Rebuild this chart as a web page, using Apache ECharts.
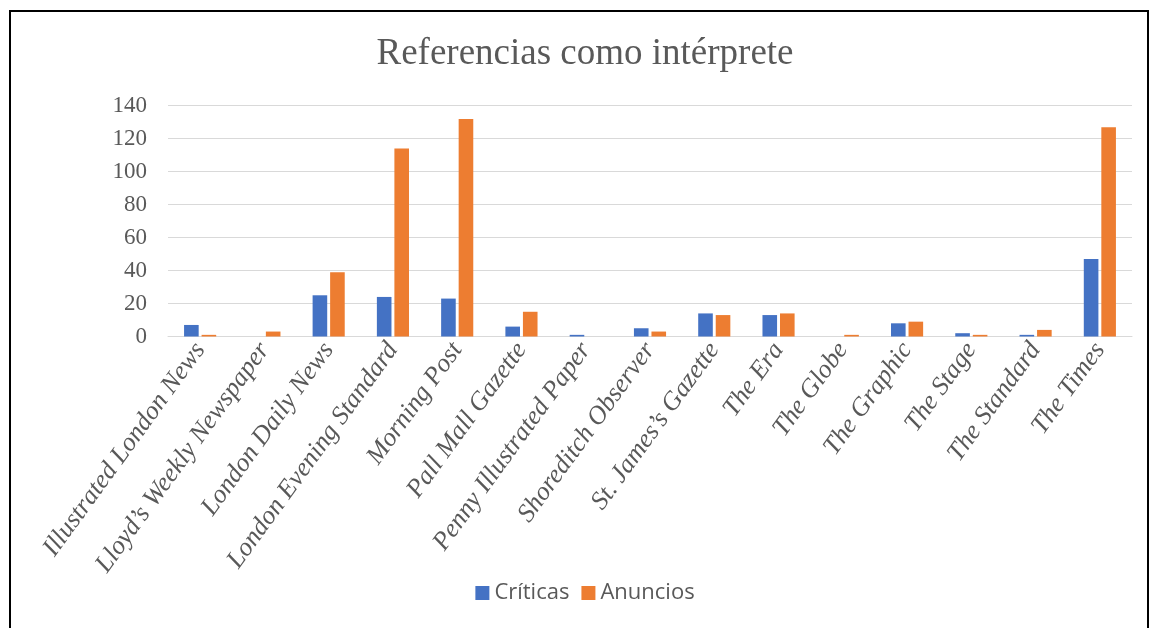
<!DOCTYPE html>
<html>
<head>
<meta charset="utf-8">
<script src="https://cdn.jsdelivr.net/npm/echarts@6/dist/echarts.min.js"></script>
<style>
html,body{margin:0;padding:0;background:#fff;overflow:hidden;}
#frame{position:absolute;left:9px;top:10px;width:1140px;height:640px;border:2px solid #000;box-sizing:border-box;}
#chart{position:absolute;left:0;top:0;width:1170px;height:628px;}
</style>
</head>
<body>
<div id="frame"></div>
<div id="chart"></div>
<script>
const categories = ["Illustrated London News","Lloyd\u2019s Weekly Newspaper","London Daily News","London Evening Standard","Morning Post","Pall Mall Gazette","Penny Illustrated Paper","Shoreditch Observer","St. James\u2019s Gazette","The Era","The Globe","The Graphic","The Stage","The Standard","The Times"];
const criticas = [7,0,25,24,23,6,1,5,14,13,0,8,2,1,47];
const anuncios = [1,3,39,114,132,15,0,3,13,14,1,9,1,4,127];
const yTicks = [0,20,40,60,80,100,120,140];

const chart = echarts.init(document.getElementById('chart'));
chart.setOption({
  animation:false,
  title:{text:'Referencias como intérprete',left:'center',top:31,textStyle:{fontFamily:'Liberation Serif',fontSize:37,fontWeight:'normal',color:'#595959'}},
  legend:{bottom:19,left:'center',itemWidth:14,itemHeight:14,itemGap:12,icon:'rect',
    textStyle:{fontFamily:'Open Sans',fontSize:22,color:'#595959'}},
  grid:{left:168,right:38,top:105.7,bottom:291.5},
  xAxis:{type:'category',data:categories,
    axisLine:{lineStyle:{color:'#D9D9D9',width:1}},axisTick:{show:false},
    axisLabel:{interval:0,rotate:54,fontFamily:'Liberation Serif',fontStyle:'italic',fontSize:26,color:'#595959',margin:9}},
  yAxis:{type:'value',min:yTicks[0],max:yTicks[yTicks.length-1],interval:20,
    axisLine:{show:false},axisTick:{show:false},
    splitLine:{lineStyle:{color:'#D9D9D9',width:1}},
    axisLabel:{fontFamily:'Liberation Serif',fontSize:23,color:'#595959',margin:21}},
  series:[
    {name:'Críticas',type:'bar',data:criticas,itemStyle:{color:'#4472C4'},barGap:'20%',barCategoryGap:'50%'},
    {name:'Anuncios',type:'bar',data:anuncios,itemStyle:{color:'#ED7D31'},barGap:'20%',barCategoryGap:'50%'}
  ]
});
</script>
</body>
</html>
